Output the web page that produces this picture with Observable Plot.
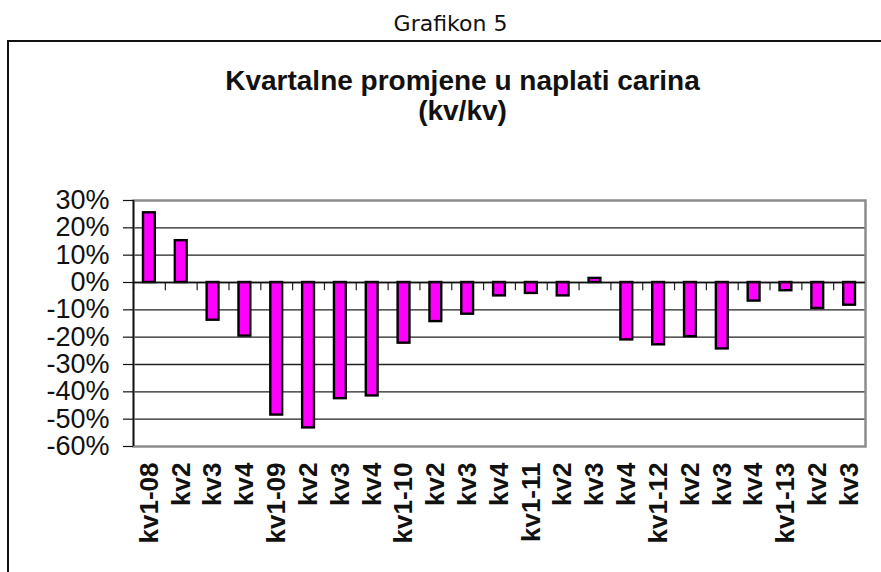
<!DOCTYPE html>
<html>
<head>
<meta charset="utf-8">
<script src="https://cdn.jsdelivr.net/npm/d3@7"></script>
<script src="https://cdn.jsdelivr.net/npm/@observablehq/plot@0.6"></script>
<style>
  html, body { margin: 0; padding: 0; background: #fff; }
  #wrap { position: relative; width: 881px; height: 572px; overflow: hidden; }
  #caption { position: absolute; top: 11px; left: 10px; width: 881px; text-align: center;
    font-family: "DejaVu Sans", Verdana, sans-serif; font-size: 22px; color: #111; }
  #frame { position: absolute; left: 7px; top: 40px; width: 880px; height: 540px;
    border-top: 2px solid #111; border-left: 2px solid #111; }
  #title { position: absolute; top: 66px; left: 22px; width: 881px; text-align: center;
    font-family: "Liberation Sans", Arial, sans-serif; font-weight: bold; font-size: 28px;
    line-height: 30px; color: #111; }
  #chart { position: absolute; left: 0; top: 150px; }
</style>
</head>
<body>
<div id="wrap">
  <div id="caption">Grafikon 5</div>
  <div id="frame"></div>
  <div id="title">Kvartalne promjene u naplati carina<br>(kv/kv)</div>
  <div id="chart"></div>
</div>
<script>
const quarters = ["kv1-08","kv2","kv3","kv4","kv1-09","kv2","kv3","kv4","kv1-10","kv2","kv3","kv4",
                  "kv1-11","kv2","kv3","kv4","kv1-12","kv2","kv3","kv4","kv1-13","kv2","kv3"];
const changes = [0.255, 0.153, -0.138, -0.196, -0.485, -0.532, -0.425, -0.415, -0.222, -0.143, -0.116, -0.049,
                 -0.040, -0.049, 0.015, -0.210, -0.228, -0.198, -0.243, -0.068, -0.030, -0.095, -0.083];
const yTicks = [0.3, 0.2, 0.1, 0, -0.1, -0.2, -0.3, -0.4, -0.5, -0.6];

const ids = quarters.map((q, i) => i);
const data = ids.map(i => ({id: i, label: quarters[i], value: changes[i]}));

const W = 881, H = 422, mL = 133, mR = 16, mT = 50, mB = 126;
const bw = (W - mL - mR) / quarters.length;
const pct = d => `${Math.round(d * 100)}%`;

const chart = Plot.plot({
  width: W, height: H,
  marginLeft: mL, marginRight: mR, marginTop: mT, marginBottom: mB,
  style: {fontFamily: "'Liberation Sans', Arial, sans-serif", color: "#111", background: "transparent"},
  x: {type: "band", domain: ids, padding: 0, round: false, label: null},
  y: {domain: [-0.6, 0.3], label: null},
  marks: [
    Plot.ruleY(yTicks.filter(t => t !== 0.3 && t !== -0.6), {y: d => d, stroke: "#222", strokeWidth: 1.3}),
    Plot.frame({stroke: "#8c8c8c", strokeWidth: 2.5}),
    Plot.ruleX(ids, {x: d => d, y1: 0, y2: -0.03, dx: -bw / 2, stroke: "#222", strokeWidth: 1.2}),
    Plot.barY(data, {x: "id", y: "value", fill: "#ff00ff", stroke: "#000", strokeWidth: 2.4,
      insetLeft: 10, insetRight: 10}),
    Plot.ruleY([0], {stroke: "#111", strokeWidth: 1.5}),
    Plot.ruleX([ids[0]], {x: d => d, dx: -bw / 2, y1: -0.6, y2: 0.3, stroke: "#111", strokeWidth: 1.5}),
    Plot.axisY({ticks: yTicks, tickFormat: pct, tickSize: 10, tickPadding: 14,
      fontSize: 27, stroke: "#111", strokeWidth: 1.2, label: null}),
    Plot.axisX({tickSize: 0, tickRotate: -90, tickPadding: 16, fontSize: 26, fontWeight: "bold",
      tickFormat: i => quarters[i], label: null})
  ]
});
document.getElementById("chart").appendChild(chart);
</script>
</body>
</html>
